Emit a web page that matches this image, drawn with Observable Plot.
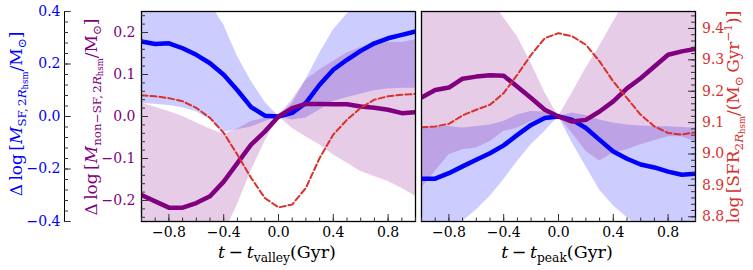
<!DOCTYPE html>
<html><head><meta charset="utf-8">
<script src="https://cdn.jsdelivr.net/npm/d3@7"></script>
<script src="https://cdn.jsdelivr.net/npm/@observablehq/plot@0.6"></script>
<style>
body{margin:0;background:#fff;}
#chart{position:relative;width:753px;height:270px;}
#chart svg{position:absolute;left:0;top:0;}
</style></head><body><div id="chart"></div>
<script>
// ---- data (time offsets in Gyr) ----
const times = [-1.0,-0.9,-0.8,-0.7,-0.6,-0.5,-0.4,-0.3,-0.2,-0.1,0,0.1,0.2,0.3,0.4,0.5,0.6,0.7,0.8,0.9,1.0];

// valley panel
const valleyBlue    = [0.286,0.276,0.279,0.260,0.235,0.203,0.159,0.100,0.036,0.003,0,0.014,0.052,0.121,0.178,0.216,0.250,0.279,0.298,0.311,0.324];
const valleyBlueLo  = [0.050,0.047,0.042,0.033,0.018,-0.010,-0.060,-0.050,-0.040,-0.020,0,-0.013,-0.006,0.025,0.057,0.072,0.085,0.098,0.105,0.108,0.108];
const valleyBlueHi  = [0.50,0.50,0.50,0.50,0.47,0.43,0.35,0.23,0.135,0.055,0,0.05,0.14,0.24,0.33,0.39,0.44,0.47,0.50,0.50,0.50];
const valleyPurple  = [-0.187,-0.202,-0.217,-0.217,-0.206,-0.190,-0.155,-0.111,-0.067,-0.036,0,0.020,0.030,0.030,0.029,0.029,0.024,0.021,0.016,0.008,0.010];
const valleyPurpleLo= [-0.32,-0.32,-0.32,-0.32,-0.32,-0.31,-0.28,-0.21,-0.13,-0.06,0,-0.028,-0.048,-0.067,-0.091,-0.111,-0.131,-0.143,-0.155,-0.171,-0.19];
const valleyPurpleHi= [0.032,0.022,0.012,0.0,-0.015,-0.030,-0.042,-0.030,-0.012,-0.004,0,0.04,0.087,0.111,0.131,0.151,0.164,0.172,0.177,0.176,0.183];
const valleySFR     = [9.187,9.184,9.178,9.168,9.147,9.115,9.067,8.998,8.924,8.860,8.830,8.839,8.892,8.987,9.062,9.109,9.147,9.173,9.184,9.189,9.191];

// peak panel
const peakBlue      = [-0.237,-0.237,-0.216,-0.190,-0.165,-0.140,-0.110,-0.070,-0.032,-0.006,0,-0.013,-0.044,-0.089,-0.133,-0.161,-0.183,-0.194,-0.210,-0.222,-0.218];
const peakBlueLo    = [-0.45,-0.45,-0.45,-0.40,-0.356,-0.305,-0.241,-0.171,-0.108,-0.057,0,-0.10,-0.19,-0.28,-0.34,-0.385,-0.43,-0.45,-0.45,-0.45,-0.45];
const peakBlueHi    = [-0.044,-0.040,-0.038,-0.044,-0.038,-0.032,-0.019,0.006,0.019,0.017,0,0.013,0.004,-0.013,-0.025,-0.032,-0.036,-0.038,-0.039,-0.042,-0.044];
const peakPurple    = [0.045,0.063,0.069,0.090,0.095,0.098,0.097,0.071,0.044,0.016,0,-0.012,-0.008,0.012,0.036,0.067,0.091,0.119,0.147,0.155,0.161];
const peakPurpleLo  = [-0.171,-0.131,-0.091,-0.079,-0.075,-0.060,-0.036,-0.028,-0.012,-0.004,0,-0.04,-0.083,-0.106,-0.087,-0.079,-0.067,-0.058,-0.048,-0.048,-0.06];
const peakPurpleHi  = [0.30,0.30,0.30,0.30,0.30,0.28,0.235,0.19,0.127,0.057,0,0.056,0.115,0.167,0.225,0.28,0.30,0.30,0.30,0.30,0.30];
const peakSFR       = [9.085,9.088,9.096,9.123,9.141,9.157,9.194,9.253,9.316,9.369,9.385,9.375,9.348,9.295,9.231,9.178,9.125,9.088,9.067,9.062,9.069];

// ---- axes ----
const xDomain = [-1, 1];
const blueDomain = [-0.4, 0.4];
const purpleDomain = [-0.25, 0.25];
const redDomain = [8.785, 9.454];
const xMajorTicks = [-0.8, -0.4, 0, 0.4, 0.8];
const xMinorTicks = d3.range(-10, 11).map(i => i / 10);
const blueMajorTicks = [-0.4, -0.2, 0, 0.2, 0.4];
const blueMinorTicks = d3.range(-10, 11).map(i => i * 0.04);
const purpleMajorTicks = [-0.2, -0.1, 0, 0.1, 0.2];
const purpleMinorTicks = d3.range(-12, 13).map(i => i * 0.02);
const redMajorTicks = [8.8, 8.9, 9.0, 9.1, 9.2, 9.3, 9.4];
const redMinorTicks = d3.range(0, 33).map(i => 8.8 + i * 0.02);

const BLUE = "#0000ff", PURPLE = "#800080", RED = "#d9302c", TICK = "#333";
const W = 753, H = 270, MT = 11, MB = 49;
const panels = { valley: { left: 141, right: 338 }, peak: { left: 421, right: 58 } };
const innerW = 274, innerH = H - MT - MB;
const fmt = d => (d < -1e-9 ? "\u2212" : "") + Math.abs(d).toFixed(1);

const data = {
  valley: { blue: valleyBlue, blueLo: valleyBlueLo, blueHi: valleyBlueHi, purple: valleyPurple, purpleLo: valleyPurpleLo, purpleHi: valleyPurpleHi, sfr: valleySFR },
  peak:   { blue: peakBlue, blueLo: peakBlueLo, blueHi: peakBlueHi, purple: peakPurple, purpleLo: peakPurpleLo, purpleHi: peakPurpleHi, sfr: peakSFR }
};

const chart = document.getElementById("chart");
function layer(p, yDomain, marks) {
  const svg = Plot.plot({
    width: W, height: H, marginTop: MT, marginBottom: MB,
    marginLeft: panels[p].left, marginRight: panels[p].right,
    x: { domain: xDomain, axis: null }, y: { domain: yDomain, axis: null },
    style: { background: "transparent", fontFamily: "DejaVu Serif", fontSize: "14px", overflow: "visible" },
    marks
  });
  chart.appendChild(svg);
  return svg;
}
const P = ["valley", "peak"];
// bands
for (const p of P) layer(p, blueDomain, [Plot.areaY(times, { x: times, y1: data[p].blueLo, y2: data[p].blueHi, fill: BLUE, fillOpacity: 0.2, clip: true })]);
for (const p of P) layer(p, purpleDomain, [Plot.areaY(times, { x: times, y1: data[p].purpleLo, y2: data[p].purpleHi, fill: PURPLE, fillOpacity: 0.2, clip: true })]);
// lines
for (const p of P) layer(p, blueDomain, [Plot.line(times, { x: times, y: data[p].blue, stroke: BLUE, strokeWidth: 4.5, clip: true })]);
for (const p of P) layer(p, purpleDomain, [Plot.line(times, { x: times, y: data[p].purple, stroke: PURPLE, strokeWidth: 4.5, clip: true })]);
for (const p of P) layer(p, redDomain, [Plot.line(times, { x: times, y: data[p].sfr, stroke: RED, strokeWidth: 2, strokeDasharray: "6,3", clip: true })]);

// x axis marks shared
const xAxisMarks = [
  Plot.frame({ stroke: "black", strokeWidth: 1.3 }),
  Plot.tickX(xMinorTicks, { x: d => d, insetTop: innerH - 3.5, stroke: TICK }),
  Plot.tickX(xMajorTicks, { x: d => d, insetTop: innerH - 7, stroke: TICK }),
  Plot.axisX({ ticks: xMajorTicks, tickSize: 0, tickPadding: 5.5, tickFormat: fmt, fill: "black" })
];
// blue outer axis (offset spine)
const off = 64 - panels.valley.left;
layer("valley", blueDomain, [
  Plot.ruleX(xDomain.slice(0, 1), { dx: off, stroke: "black", strokeWidth: 1 }),
  Plot.tickY(blueMinorTicks, { y: d => d, dx: off, insetRight: innerW - 4, stroke: TICK }),
  Plot.tickY(blueMajorTicks, { y: d => d, dx: off, insetRight: innerW - 6.7, stroke: TICK }),
  Plot.axisY({ anchor: "left", ticks: blueMajorTicks, tickSize: 0, tickPadding: 4, dx: off, tickFormat: fmt, color: BLUE, label: null })
]);
layer("valley", purpleDomain, [
  ...xAxisMarks,
  Plot.tickY(purpleMinorTicks, { y: d => d, insetRight: innerW - 4, stroke: TICK }),
  Plot.tickY(purpleMajorTicks, { y: d => d, insetRight: innerW - 7, stroke: TICK }),
  Plot.axisY({ anchor: "left", ticks: purpleMajorTicks, tickSize: 0, tickPadding: 6, tickFormat: fmt, color: PURPLE, label: null })
]);
const topSvg = layer("peak", redDomain, [
  ...xAxisMarks,
  Plot.tickY(redMinorTicks, { y: d => d, insetLeft: innerW - 4, stroke: TICK }),
  Plot.tickY(redMajorTicks, { y: d => d, insetLeft: innerW - 7, stroke: TICK }),
  Plot.axisY({ anchor: "right", ticks: redMajorTicks, tickSize: 0, tickPadding: 6.5, tickFormat: d => d.toFixed(1), color: RED, label: null })
]);

// ---- titles with sub/superscripts ----
const blueTitle = [["\u0394\u2009log\u2009[", 0], ["M", 0, 1], ["SF,\u20092", 1], ["R", 1, 1], ["hsm", 2], ["/M", 0], ["\u2299", 1], ["]", 0]];
const purpleTitle = [["\u0394\u2009log\u2009[", 0], ["M", 0, 1], ["non\u2212SF,\u20092", 1], ["R", 1, 1], ["hsm", 2], ["/M", 0], ["\u2299", 1], ["]", 0]];
const redTitle = [["log\u2009[SFR", 0], ["2", 1], ["R", 1, 1], ["hsm", 2], ["/(M", 0], ["\u2299", 1], ["\u2009Gyr", 0], ["\u22121", -1], [")]", 0]];
const valleyTitle = [["t", 0, 1], ["\u2009\u2212\u2009", 0], ["t", 0, 1], ["valley", 1], ["(Gyr)", 0]];
const peakTitle = [["t", 0, 1], ["\u2009\u2212\u2009", 0], ["t", 0, 1], ["peak", 1], ["(Gyr)", 0]];

const svgSel = d3.select(topSvg);
function mathLabel(parts, x, y, rotate, size, color) {
  const t = svgSel.append("text")
    .attr("transform", `translate(${x},${y}) rotate(${rotate})`)
    .attr("text-anchor", "middle").attr("font-family", "DejaVu Serif")
    .attr("font-size", size).attr("fill", color).style("white-space", "pre");
  const scale = { 0: 1, 1: 0.7, 2: 0.5, [-1]: 0.7 };
  const shift = { 0: 0, 1: 0.22, 2: 0.38, [-1]: -0.42 };
  let cur = 0;
  for (const [s, lvl, it] of parts) {
    const o = shift[lvl] * size;
    t.append("tspan").attr("dy", o - cur).attr("font-size", size * scale[lvl])
      .attr("font-style", it ? "italic" : "normal").text(s);
    cur = o;
  }
}
mathLabel(blueTitle, 22, 114, -90, 17, BLUE);
mathLabel(purpleTitle, 97, 117, -90, 17, PURPLE);
mathLabel(redTitle, 739, 117, -90, 17, RED);
mathLabel(valleyTitle, 277, 258, 0, 17.5, "black");
mathLabel(peakTitle, 557, 258, 0, 17.5, "black");
</script></body></html>
